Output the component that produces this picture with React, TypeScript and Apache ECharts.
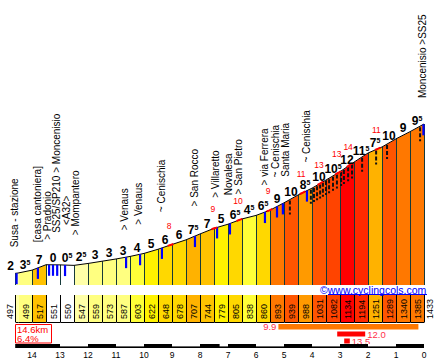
import React, { useEffect, useRef } from "react";
import * as echarts from "echarts";

// ---------- data ----------
const kmPoints = [14.6, 14.5, 14, 13.5, 13, 12.5, 12, 11.5, 11, 10.5, 10, 9.5, 9, 8.5, 8, 7.5, 7, 6.5, 6, 5.5, 5, 4.5, 4, 3.5, 3, 2.5, 2, 1.5, 1, 0.5, 0];
const elevations = [497, 499, 517, 551, 550, 547, 559, 573, 587, 603, 622, 648, 678, 707, 744, 779, 805, 838, 860, 893, 939, 988, 1031, 1082, 1134, 1194, 1251, 1289, 1340, 1385, 1433];
const gradients = [2, 3.5, 7, 0, 0.5, 2.5, 3, 3, 3, 4, 5, 6, 6, 7.5, 7, 5, 6.5, 4.5, 6.5, 9, 10, 8.5, 10, 10.5, 12, 11.5, 7.5, 10, 9, 9.5];

const placeNames = ["Susa - stazione", "[casa cantoniera]", "> Pradonio", "SS25/SP210 > Moncenisio", "<A32>", "> Mompantero", "> Venaus", "> Venaus", "~ Cenischia", "> San Rocco", "> Villaretto", "Novalesa", "> San Pietro", "> via Ferrera", "~ Cenischia", "Santa Maria", "~ Cenischia", "Moncenisio >SS25"];
const placeKm = [14.64, 13.82, 13.43, 13.11, 12.77, 12.46, 10.68, 10.21, 9.39, 8.21, 7.43, 7.0, 6.64, 5.71, 5.32, 4.93, 4.18, 0.07];

const villageMarkKm = [14.55, 13.79, 13.39, 13.25, 13.1, 12.82, 10.64, 10.14, 9.36, 8.18, 7.39, 6.93, 5.68, 5.25, 5.04, 4.18, 0.02];
const hairpinKm = [4.79, 4.04, 3.93, 3.82, 3.71, 3.61, 3.5, 3.39, 3.25, 3.11, 2.96, 2.86, 2.71, 2.57, 2.21, 1.71, 1.32, 0.14];

const steepKm = [9.1, 7.54, 6.64, 5.57, 4.39, 3.75, 3.12, 2.71, 1.7];
const steepPct = [8, 9, 10, 9, 11, 13, 13, 14, 11];

const climbFromKm = [5.2, 3.1, 2.85];
const climbToKm = [0.2, 2.1, 2.65];
const climbAvg = [9.9, 12.0, 13.5];

const scaleWhiteFrom = [13, 11, 9, 7.3, 6, 4, 2];
const scaleWhiteTo = [12, 10, 8, 7, 5, 3, 1];

const totalKm = 14.6;
const avgGrade = 6.4;
const siteName = "www.cyclingcols.com";

// ---------- layout / style ----------
const FONT = "'Liberation Sans', Arial, Helvetica, sans-serif";
const Y_MIN = 424;
const Y_MAX = 1433;
const SEP = "#163a3a";
const placeLift = [26, 26, 25, 32, 40, 30, 27, 30, 36, 30, 30, 29, 26, 27, 30, 25, 28, 27];
const BOX_TOP = 295;
const BOX_BOTTOM = 322;
const CLIMB_ROW_Y = [324, 331.5, 338.5];
const CLIMB_ROW_H = [5.5, 5, 5];

function gradColor(g: number): string {
  const v = Math.floor(g * 2 + 1e-9) / 2;
  if (v < 1) return "#FFFFFF";
  if (v < 3) return "#FFFFA8";
  if (v < 4) return "#FFFF80";
  if (v < 5) return "#FFFF38";
  if (v < 5.5) return "#FFF200";
  if (v < 7) return "#FFD800";
  if (v < 7.5) return "#FFC200";
  if (v < 8) return "#FFB200";
  if (v < 9) return "#FF9A00";
  if (v < 10) return "#FF7800";
  if (v < 10.5) return "#FF5500";
  if (v < 11) return "#FF4400";
  if (v < 12) return "#FF2A00";
  return "#FF0000";
}

function elevAt(k: number): number {
  for (let i = 0; i < kmPoints.length - 1; i++) {
    const a = kmPoints[i];
    const b = kmPoints[i + 1];
    if (k <= a && k >= b) {
      const t = (a - k) / (a - b);
      return elevations[i] + t * (elevations[i + 1] - elevations[i]);
    }
  }
  return k > kmPoints[0] ? elevations[0] : elevations[elevations.length - 1];
}

const sx = (v: number) => Math.floor(v) + 0.5;

function buildOption(): any {
  const renderColumn = (params: any, api: any) => {
    const i = params.dataIndex;
    const a = api.coord([kmPoints[i], elevations[i]]);
    const b = api.coord([kmPoints[i + 1], elevations[i + 1]]);
    const base = api.coord([kmPoints[i], Y_MIN])[1];
    const x0 = sx(a[0]);
    const x1 = sx(b[0]);
    const children: any[] = [
      { type: "polygon", shape: { points: [[x0, base], [x0, a[1]], [x1, b[1]], [x1, base]] }, style: { fill: gradColor(gradients[i]) } },
    ];
    if (i !== 1) children.push({ type: "line", shape: { x1: x0, y1: a[1], x2: x0, y2: base }, style: { stroke: SEP, lineWidth: 1 } });
    if (i === gradients.length - 1) children.push({ type: "line", shape: { x1: x1, y1: b[1], x2: x1, y2: base }, style: { stroke: SEP, lineWidth: 1 } });
    return { type: "group", children };
  };

  const renderGradLabel = (params: any, api: any) => {
    const i = params.dataIndex;
    const km = (kmPoints[i] + kmPoints[i + 1]) / 2;
    const p = api.coord([km, (elevations[i] + elevations[i + 1]) / 2]);
    const g = gradients[i];
    const w = Math.floor(g + 1e-9);
    const half = g - w >= 0.5;
    const text = "{a|" + w + "}" + (half ? "{b|5}" : "");
    return {
      type: "text",
      x: p[0] + (i === 0 ? -6 : 0),
      y: p[1] - 1,
      style: {
        text,
        align: "center",
        verticalAlign: "bottom",
        rich: {
          a: { fontSize: 12, fontWeight: "bold", fontFamily: FONT, fill: "#000", lineHeight: 12 },
          b: { fontSize: 7, fontWeight: "bold", fontFamily: FONT, fill: "#000", lineHeight: 8, verticalAlign: "top" },
        },
      },
    };
  };

  const renderName = (params: any, api: any) => {
    const i = params.dataIndex;
    const p = api.coord([placeKm[i], elevAt(placeKm[i])]);
    return {
      type: "text",
      x: p[0],
      y: p[1] - placeLift[i],
      rotation: Math.PI / 2,
      style: { text: placeNames[i], align: "left", verticalAlign: "middle", fontSize: 10, fontFamily: FONT, fill: "#000" },
    };
  };

  const renderVillage = (params: any, api: any) => {
    const k = villageMarkKm[params.dataIndex];
    const p = api.coord([k, elevAt(k)]);
    return { type: "line", shape: { x1: p[0], y1: p[1], x2: p[0], y2: p[1] + 11 }, style: { stroke: "#0000FF", lineWidth: 2.2 } };
  };

  const renderHairpin = (params: any, api: any) => {
    const k = hairpinKm[params.dataIndex];
    const p = api.coord([k, elevAt(k)]);
    return { type: "line", shape: { x1: p[0], y1: p[1] + 1, x2: p[0], y2: p[1] + 15 }, style: { stroke: "#111", lineWidth: 2, lineDash: [4, 2] } };
  };

  const renderSteep = (params: any, api: any) => {
    const i = params.dataIndex;
    const k = steepKm[i];
    const pts: number[][] = [];
    for (let s = 0; s <= 4; s++) {
      const kk = k + 0.05 - s * 0.05;
      pts.push(api.coord([kk, elevAt(kk)]));
    }
    const p = api.coord([k, elevAt(k)]);
    return {
      type: "group",
      children: [
        { type: "polyline", shape: { points: pts }, style: { stroke: "#FF0000", lineWidth: 2, fill: null } },
        { type: "text", x: p[0], y: p[1] - 15, style: { text: String(steepPct[i]), align: "center", verticalAlign: "bottom", fontSize: 8.5, fontFamily: FONT, fill: "#FF0000" } },
      ],
    };
  };

  const renderBox = (params: any, api: any) => {
    const i = params.dataIndex;
    const x0 = sx(api.coord([kmPoints[i], Y_MIN])[0]);
    const x1 = sx(api.coord([kmPoints[i + 1], Y_MIN])[0]);
    const children: any[] = [
      { type: "rect", shape: { x: x0, y: BOX_TOP, width: x1 - x0, height: BOX_BOTTOM - BOX_TOP }, style: { fill: gradColor(gradients[i]) } },
      { type: "line", shape: { x1: x0, y1: BOX_BOTTOM + 0.5, x2: x1, y2: BOX_BOTTOM + 0.5 }, style: { stroke: "#000", lineWidth: 1 } },
    ];
    if (i !== 1) children.push({ type: "line", shape: { x1: x0, y1: BOX_TOP, x2: x0, y2: BOX_BOTTOM }, style: { stroke: "#000", lineWidth: 1 } });
    const lx = i === 0 ? x0 - 5.5 : (x0 + x1) / 2;
    children.push({ type: "text", x: lx, y: 319, rotation: Math.PI / 2, style: { text: String(elevations[i]), align: "left", verticalAlign: "middle", fontSize: 9, fontFamily: FONT, fill: "#000" } });
    if (i === gradients.length - 1) {
      children.push({ type: "line", shape: { x1: x1, y1: BOX_TOP, x2: x1, y2: BOX_BOTTOM }, style: { stroke: "#000", lineWidth: 1 } });
      children.push({ type: "text", x: x1 + 5, y: 319, rotation: Math.PI / 2, style: { text: String(elevations[i + 1]), align: "left", verticalAlign: "middle", fontSize: 9, fontFamily: FONT, fill: "#000" } });
    }
    return { type: "group", children };
  };

  const renderClimb = (params: any, api: any) => {
    const i = params.dataIndex;
    const xa = api.coord([climbFromKm[i], Y_MIN])[0];
    const xb = api.coord([climbToKm[i], Y_MIN])[0];
    const y = CLIMB_ROW_Y[i];
    const h = CLIMB_ROW_H[i];
    return {
      type: "group",
      children: [
        { type: "rect", shape: { x: xa, y, width: xb - xa, height: h }, style: { fill: gradColor(climbAvg[i]) } },
        {
          type: "text",
          x: i === 0 ? xa - 2 : xb + 2,
          y: y + h / 2,
          style: { text: climbAvg[i].toFixed(1), align: i === 0 ? "right" : "left", verticalAlign: "middle", fontSize: 9.5, fontFamily: FONT, fill: "#FF3048" },
        },
      ],
    };
  };

  const renderScale = (_params: any, api: any) => {
    const x0 = api.coord([kmPoints[0], Y_MIN])[0];
    const x1 = api.coord([kmPoints[kmPoints.length - 1], Y_MIN])[0];
    const children: any[] = [{ type: "rect", shape: { x: x0, y: 344, width: x1 - x0, height: 4 }, style: { fill: "#000" } }];
    for (let j = 0; j < scaleWhiteFrom.length; j++) {
      const a = api.coord([scaleWhiteFrom[j], Y_MIN])[0];
      const b = api.coord([scaleWhiteTo[j], Y_MIN])[0];
      children.push({ type: "rect", shape: { x: a, y: 344, width: b - a, height: 2.4 }, style: { fill: "#FFFFFF" } });
    }
    return { type: "group", children };
  };

  const segData = gradients.map((_g, i) => [(kmPoints[i] + kmPoints[i + 1]) / 2, (elevations[i] + elevations[i + 1]) / 2]);

  return {
    animation: false,
    backgroundColor: "#FFFFFF",
    grid: [
      { left: 15.2, right: 15, top: 124, height: 161 },
      { left: 15.2, right: 15, top: 344, height: 4 },
    ],
    xAxis: [
      { type: "value", gridIndex: 0, min: 0, max: 14.6, inverse: true, show: false },
      {
        type: "value",
        gridIndex: 1,
        min: 0,
        max: 14.6,
        interval: 1,
        inverse: true,
        axisLine: { show: false },
        axisTick: { show: false },
        splitLine: { show: false },
        axisLabel: {
          show: true,
          margin: 2,
          fontSize: 8.5,
          fontFamily: FONT,
          color: "#000",
          formatter: (v: number) => (Math.abs(v - Math.round(v)) < 1e-6 ? String(Math.round(v)) : ""),
        },
      },
    ],
    yAxis: [
      { type: "value", gridIndex: 0, min: Y_MIN, max: Y_MAX, show: false },
      { type: "value", gridIndex: 1, min: 0, max: 1, show: false },
    ],
    series: [
      { type: "custom", xAxisIndex: 0, yAxisIndex: 0, data: segData, renderItem: renderColumn, z: 1, silent: true },
      {
        type: "line",
        xAxisIndex: 0,
        yAxisIndex: 0,
        data: kmPoints.map((k, i) => [k, elevations[i]]),
        symbol: "none",
        showSymbol: false,
        clip: false,
        lineStyle: { color: "#000", width: 1 },
        z: 3,
        silent: true,
      },
      { type: "custom", xAxisIndex: 0, yAxisIndex: 0, data: villageMarkKm.map((k) => [k, elevAt(k)]), renderItem: renderVillage, z: 4, silent: true },
      { type: "custom", xAxisIndex: 0, yAxisIndex: 0, data: hairpinKm.map((k) => [k, elevAt(k)]), renderItem: renderHairpin, z: 4, silent: true },
      { type: "custom", xAxisIndex: 0, yAxisIndex: 0, data: steepKm.map((k) => [k, elevAt(k)]), renderItem: renderSteep, z: 5, silent: true },
      { type: "custom", xAxisIndex: 0, yAxisIndex: 0, data: segData, renderItem: renderGradLabel, z: 6, silent: true },
      { type: "custom", xAxisIndex: 0, yAxisIndex: 0, data: placeKm.map((k) => [k, elevAt(k)]), renderItem: renderName, z: 6, silent: true },
      { type: "custom", xAxisIndex: 0, yAxisIndex: 0, data: segData, renderItem: renderBox, z: 2, silent: true },
      { type: "custom", xAxisIndex: 0, yAxisIndex: 0, data: climbAvg.map((a, i) => [climbFromKm[i], a]), renderItem: renderClimb, z: 2, silent: true },
      { type: "custom", xAxisIndex: 0, yAxisIndex: 0, data: [[0, Y_MIN]], renderItem: renderScale, z: 2, silent: true },
    ],
    graphic: [
      { type: "rect", shape: { x: 15.5, y: 324.5, width: 36, height: 18.5 }, style: { fill: "#FFFFFF", stroke: "#FF0000", lineWidth: 1 }, z: 10 },
      { type: "text", x: 17, y: 329.3, style: { text: totalKm + "km", fill: "#FF0000", fontSize: 9.5, fontFamily: FONT, align: "left", verticalAlign: "middle" }, z: 11 },
      { type: "text", x: 17, y: 338.8, style: { text: avgGrade + "%", fill: "#FF0000", fontSize: 9.5, fontFamily: FONT, align: "left", verticalAlign: "middle" }, z: 11 },
      { type: "rect", shape: { x: 318, y: 285, width: 110, height: 10 }, style: { fill: "#FFFFFF" }, z: 10 },
      { type: "text", x: 320, y: 289.5, style: { text: "\u00A9" + siteName, fill: "#0000FF", fontSize: 10.5, fontFamily: FONT, align: "left", verticalAlign: "middle" }, z: 11 },
      { type: "line", shape: { x1: 328, y1: 294.5, x2: 427, y2: 294.5 }, style: { stroke: "#0000FF", lineWidth: 1 }, z: 11 },
    ],
  };
}

export default function App() {
  const ref = useRef<HTMLDivElement>(null);
  useEffect(() => {
    if (!ref.current) return;
    const chart = echarts.init(ref.current, undefined, { renderer: "svg" });
    chart.setOption(buildOption());
    return () => chart.dispose();
  }, []);
  return <div ref={ref} style={{ position: "fixed", left: 0, top: 0, width: 439, height: 362, background: "#fff" }} />;
}
